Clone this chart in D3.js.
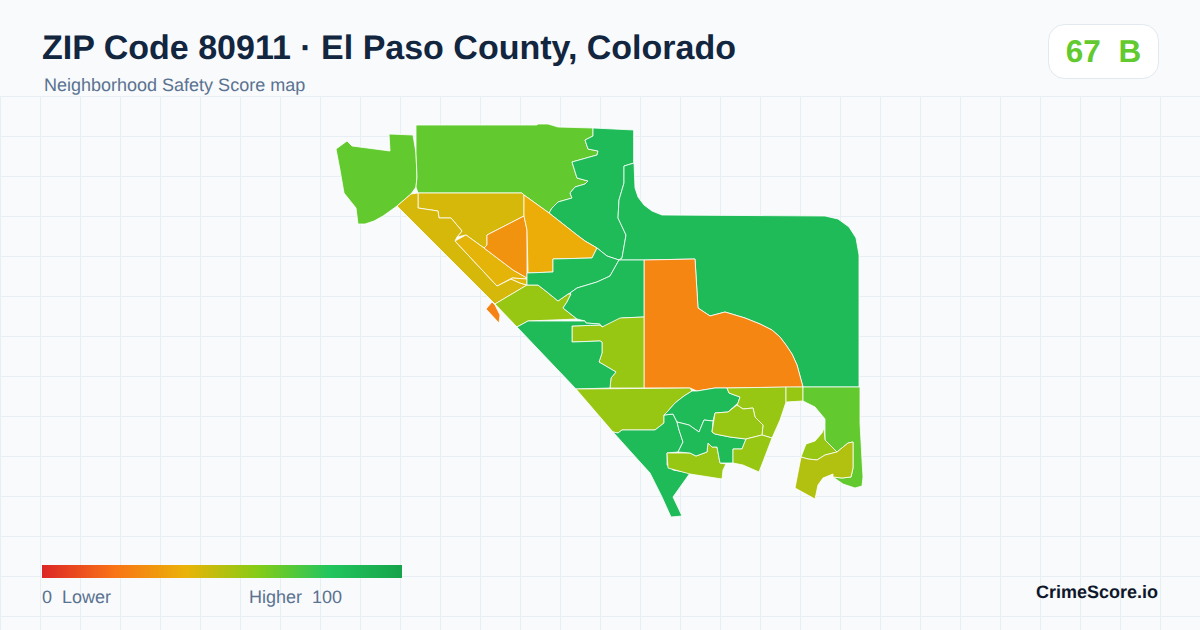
<!DOCTYPE html>
<html>
<head>
<meta charset="utf-8">
<title>ZIP Code 80911</title>
<script src="https://d3js.org/d3.v7.min.js"></script>
<style>
html, body { margin: 0; padding: 0; background: #f8fafc; }
svg { display: block; }
text { font-family: "Liberation Sans", Arial, sans-serif; white-space: pre; text-rendering: geometricPrecision; }
</style>
</head>
<body>
<div id="chart"></div>
<script>
const width = 1200;
const height = 630;

const titleText = "ZIP Code 80911 \u00b7 El Paso County, Colorado";
const subtitleText = "Neighborhood Safety Score map";
const badgeText = "67  B";
const brandText = "CrimeScore.io";
const legendLow = "0  Lower";
const legendHigh = "Higher  100";

// colour ramp, score -> colour
const rampStops = [0, 20, 40, 60, 80, 100];
const rampColors = ["#dc2626", "#f97316", "#eab308", "#84cc16", "#22c55e", "#16a34a"];

// score of each tract, same order as tractRings
const tractScores = [
    67, 67, 86, 86, 26, 44, 44, 41, 30, 42, 38, 25, 56, 86, 86, 56, 86, 56, 86, 56,
    86, 86, 56, 56, 56, 56, 67, 56, 51
];

// tract outlines in map units
const tractRings = [
    [[336,149],[347,141],[352,146],[390,151],[389,134],[413,135],[416,153],[417,177],[416,187],[411,194],[397,206],[383,216],[374,221],[365,224],[358,224],[356,208],[344,193],[340,170]],
    [[416,125],[537,125],[538,124],[548,124],[558,127],[593,128],[593,136],[585,140],[588,149],[598,151],[597,155],[572,162],[577,178],[588,181],[585,184],[575,187],[570,193],[572,198],[558,202],[552,208],[549,213],[524,195],[522,193],[418,193],[416,187],[417,177],[416,153]],
    [[593,128],[634,130],[634,163],[624,166],[624,183],[619,200],[618,218],[626,235],[622,258],[619,260],[607,256],[597,248],[585,241],[577,235],[549,213],[552,208],[558,202],[572,198],[570,193],[575,187],[585,184],[588,181],[577,178],[572,162],[597,155],[598,151],[588,149],[585,140],[593,136]],
    [[634,130],[634,163],[635,188],[638,197],[644,205],[652,211],[662,215],[825,216],[838,219],[849,227],[856,238],[859,255],[859,387],[803,387],[797,365],[792,354],[786,345],[780,337],[772,330],[760,324],[745,318],[725,312],[710,316],[698,308],[695,259],[643,260],[619,260],[622,258],[626,235],[618,218],[619,200],[624,183],[624,166],[634,163]],
    [[644,260],[695,259],[698,308],[710,316],[725,312],[745,318],[760,324],[772,330],[780,337],[786,345],[792,354],[797,365],[803,387],[727,388],[715,388],[697,391],[690,388],[644,388]],
    [[418,193],[522,193],[524,195],[524,216],[487,235],[487,245],[484,248],[466,235],[457,237],[462,231],[451,218],[439,218],[438,211],[418,208]],
    [[411,194],[418,193],[418,208],[438,211],[439,218],[451,218],[462,231],[457,237],[455,241],[497,286],[511,279],[520,283],[527,285],[495,304],[397,206]],
    [[455,241],[466,235],[484,248],[513,270],[527,278],[527,279],[512,278],[497,286]],
    [[524,216],[527,230],[527,278],[513,270],[484,248],[487,245],[487,235]],
    [[511,279],[512,278],[527,279],[527,285],[520,283]],
    [[524,195],[549,213],[577,235],[585,241],[597,248],[592,258],[553,259],[553,272],[528,273],[527,230],[524,216]],
    [[486,309],[492,302],[495,305],[500,315],[499,323]],
    [[495,304],[527,285],[538,285],[547,292],[558,301],[568,294],[571,294],[567,302],[563,308],[577,319],[528,321],[517,327]],
    [[527,273],[553,272],[553,259],[592,258],[597,248],[607,256],[619,260],[610,276],[597,282],[577,288],[570,293],[568,294],[558,301],[547,292],[538,285],[527,285]],
    [[619,260],[644,260],[644,317],[622,318],[603,327],[599,324],[585,323],[585,321],[577,319],[563,308],[567,302],[571,294],[570,293],[577,288],[597,282],[610,276]],
    [[572,326],[600,325],[602,327],[620,318],[644,317],[644,388],[610,388],[611,378],[616,372],[599,362],[602,353],[602,342],[600,341],[572,342]],
    [[517,327],[528,321],[585,321],[586,323],[600,324],[600,325],[572,326],[572,342],[600,341],[602,342],[602,353],[599,362],[616,372],[611,378],[610,388],[576,389]],
    [[576,389],[690,388],[692,391],[684,396],[675,403],[668,411],[664,415],[664,423],[655,430],[638,430],[622,430],[618,433],[613,432]],
    [[613,432],[618,433],[622,430],[655,430],[664,423],[664,415],[673,414],[677,422],[679,430],[683,442],[678,452],[667,453],[667,465],[673,470],[690,473],[673,497],[682,516],[671,517],[662,497],[650,473],[640,462]],
    [[667,453],[690,453],[696,456],[707,452],[708,443],[712,447],[717,447],[720,463],[726,464],[723,470],[722,479],[690,474],[668,468]],
    [[692,391],[697,391],[715,388],[727,388],[729,393],[740,397],[738,403],[728,412],[715,413],[713,421],[704,420],[699,432],[689,425],[677,422],[673,414],[664,415],[668,411],[675,403],[684,396]],
    [[677,422],[689,425],[699,432],[704,420],[713,421],[712,432],[715,434],[730,437],[746,439],[742,449],[733,449],[733,463],[720,463],[717,447],[712,447],[708,443],[707,452],[696,456],[690,453],[678,452],[683,442],[679,430]],
    [[727,388],[786,387],[786,402],[780,420],[772,438],[762,435],[763,425],[755,417],[753,408],[743,409],[737,405],[738,403],[740,397],[729,393]],
    [[715,413],[728,412],[737,405],[743,409],[753,408],[755,417],[763,425],[762,435],[746,439],[730,437],[715,434],[712,432]],
    [[746,439],[762,435],[772,438],[759,472],[743,465],[733,463],[733,449],[742,449]],
    [[786,387],[803,387],[803,401],[786,402]],
    [[803,387],[860,387],[860,423],[862,460],[863,477],[862,486],[855,488],[843,484],[833,477],[842,478],[851,477],[853,468],[853,442],[848,443],[837,452],[825,440],[825,419],[815,407],[803,401]],
    [[824,428],[825,440],[837,452],[825,455],[817,460],[808,459],[801,457],[806,444],[815,441],[822,433]],
    [[801,457],[808,459],[817,460],[825,455],[837,452],[848,443],[853,442],[853,468],[851,477],[842,478],[833,477],[833,474],[823,478],[818,485],[815,499],[795,488]]
];

const colorScale = d3.scaleLinear(rampStops, rampColors).clamp(true);

const svg = d3.select("#chart").append("svg")
    .attr("width", width)
    .attr("height", height)
    .attr("viewBox", `0 0 ${width} ${height}`);

svg.append("rect").attr("width", width).attr("height", height).attr("fill", "#f8fafc");

// background grid
const gridTop = 96.5;
svg.append("g").selectAll("line")
    .data(d3.range(0.5, width, 40))
    .join("line")
    .attr("x1", d => d).attr("x2", d => d)
    .attr("y1", gridTop).attr("y2", height)
    .attr("stroke", "#e8eff4");
svg.append("g").selectAll("line")
    .data(d3.range(gridTop, height, 40))
    .join("line")
    .attr("x1", 0).attr("x2", width)
    .attr("y1", d => d).attr("y2", d => d)
    .attr("stroke", "#e8eff4");

// map
const x = d3.scaleLinear([320, 880], [320, 880]);
const y = d3.scaleLinear([100, 530], [100, 530]);
const ringPath = d3.line().x(d => x(d[0])).y(d => y(d[1])).curve(d3.curveLinearClosed);

svg.append("g").selectAll("path")
    .data(tractRings)
    .join("path")
    .attr("d", ringPath)
    .attr("fill", (d, i) => colorScale(tractScores[i]))
    .attr("stroke", "#ffffff")
    .attr("stroke-width", 0.8)
    .attr("stroke-linejoin", "round");

// header
svg.append("text").attr("x", 42).attr("y", 59)
    .attr("font-size", 34).attr("font-weight", 700).attr("fill", "#12263f")
    .text(titleText);
svg.append("text").attr("x", 44).attr("y", 91)
    .attr("font-size", 18).attr("fill", "#5b7291")
    .text(subtitleText);

// score badge
svg.append("rect")
    .attr("x", 1048.5).attr("y", 24.5).attr("width", 110).attr("height", 54).attr("rx", 16)
    .attr("fill", "#ffffff").attr("stroke", "#e2e8f0");
svg.append("text").attr("x", 1103.5).attr("y", 62)
    .attr("text-anchor", "middle")
    .attr("font-size", 31.5).attr("font-weight", 700).attr("fill", colorScale(67))
    .text(badgeText);

// legend
const legendX = d3.scaleLinear([0, 100], [42, 402]);
const grad = svg.append("defs").append("linearGradient").attr("id", "ramp");
grad.selectAll("stop")
    .data(rampStops)
    .join("stop")
    .attr("offset", d => d + "%")
    .attr("stop-color", (d, i) => rampColors[i]);
svg.append("rect")
    .attr("x", legendX(0)).attr("y", 565)
    .attr("width", legendX(100) - legendX(0)).attr("height", 13)
    .attr("fill", "url(#ramp)");
svg.append("text").attr("x", 42).attr("y", 603)
    .attr("font-size", 18).attr("fill", "#5b7291")
    .text(legendLow);
svg.append("text").attr("x", 249).attr("y", 603)
    .attr("font-size", 18).attr("fill", "#5b7291")
    .text(legendHigh);

svg.append("text").attr("x", 1158).attr("y", 598)
    .attr("text-anchor", "end")
    .attr("font-size", 18).attr("font-weight", 700).attr("fill", "#0f172a")
    .text(brandText);
</script>
</body>
</html>
